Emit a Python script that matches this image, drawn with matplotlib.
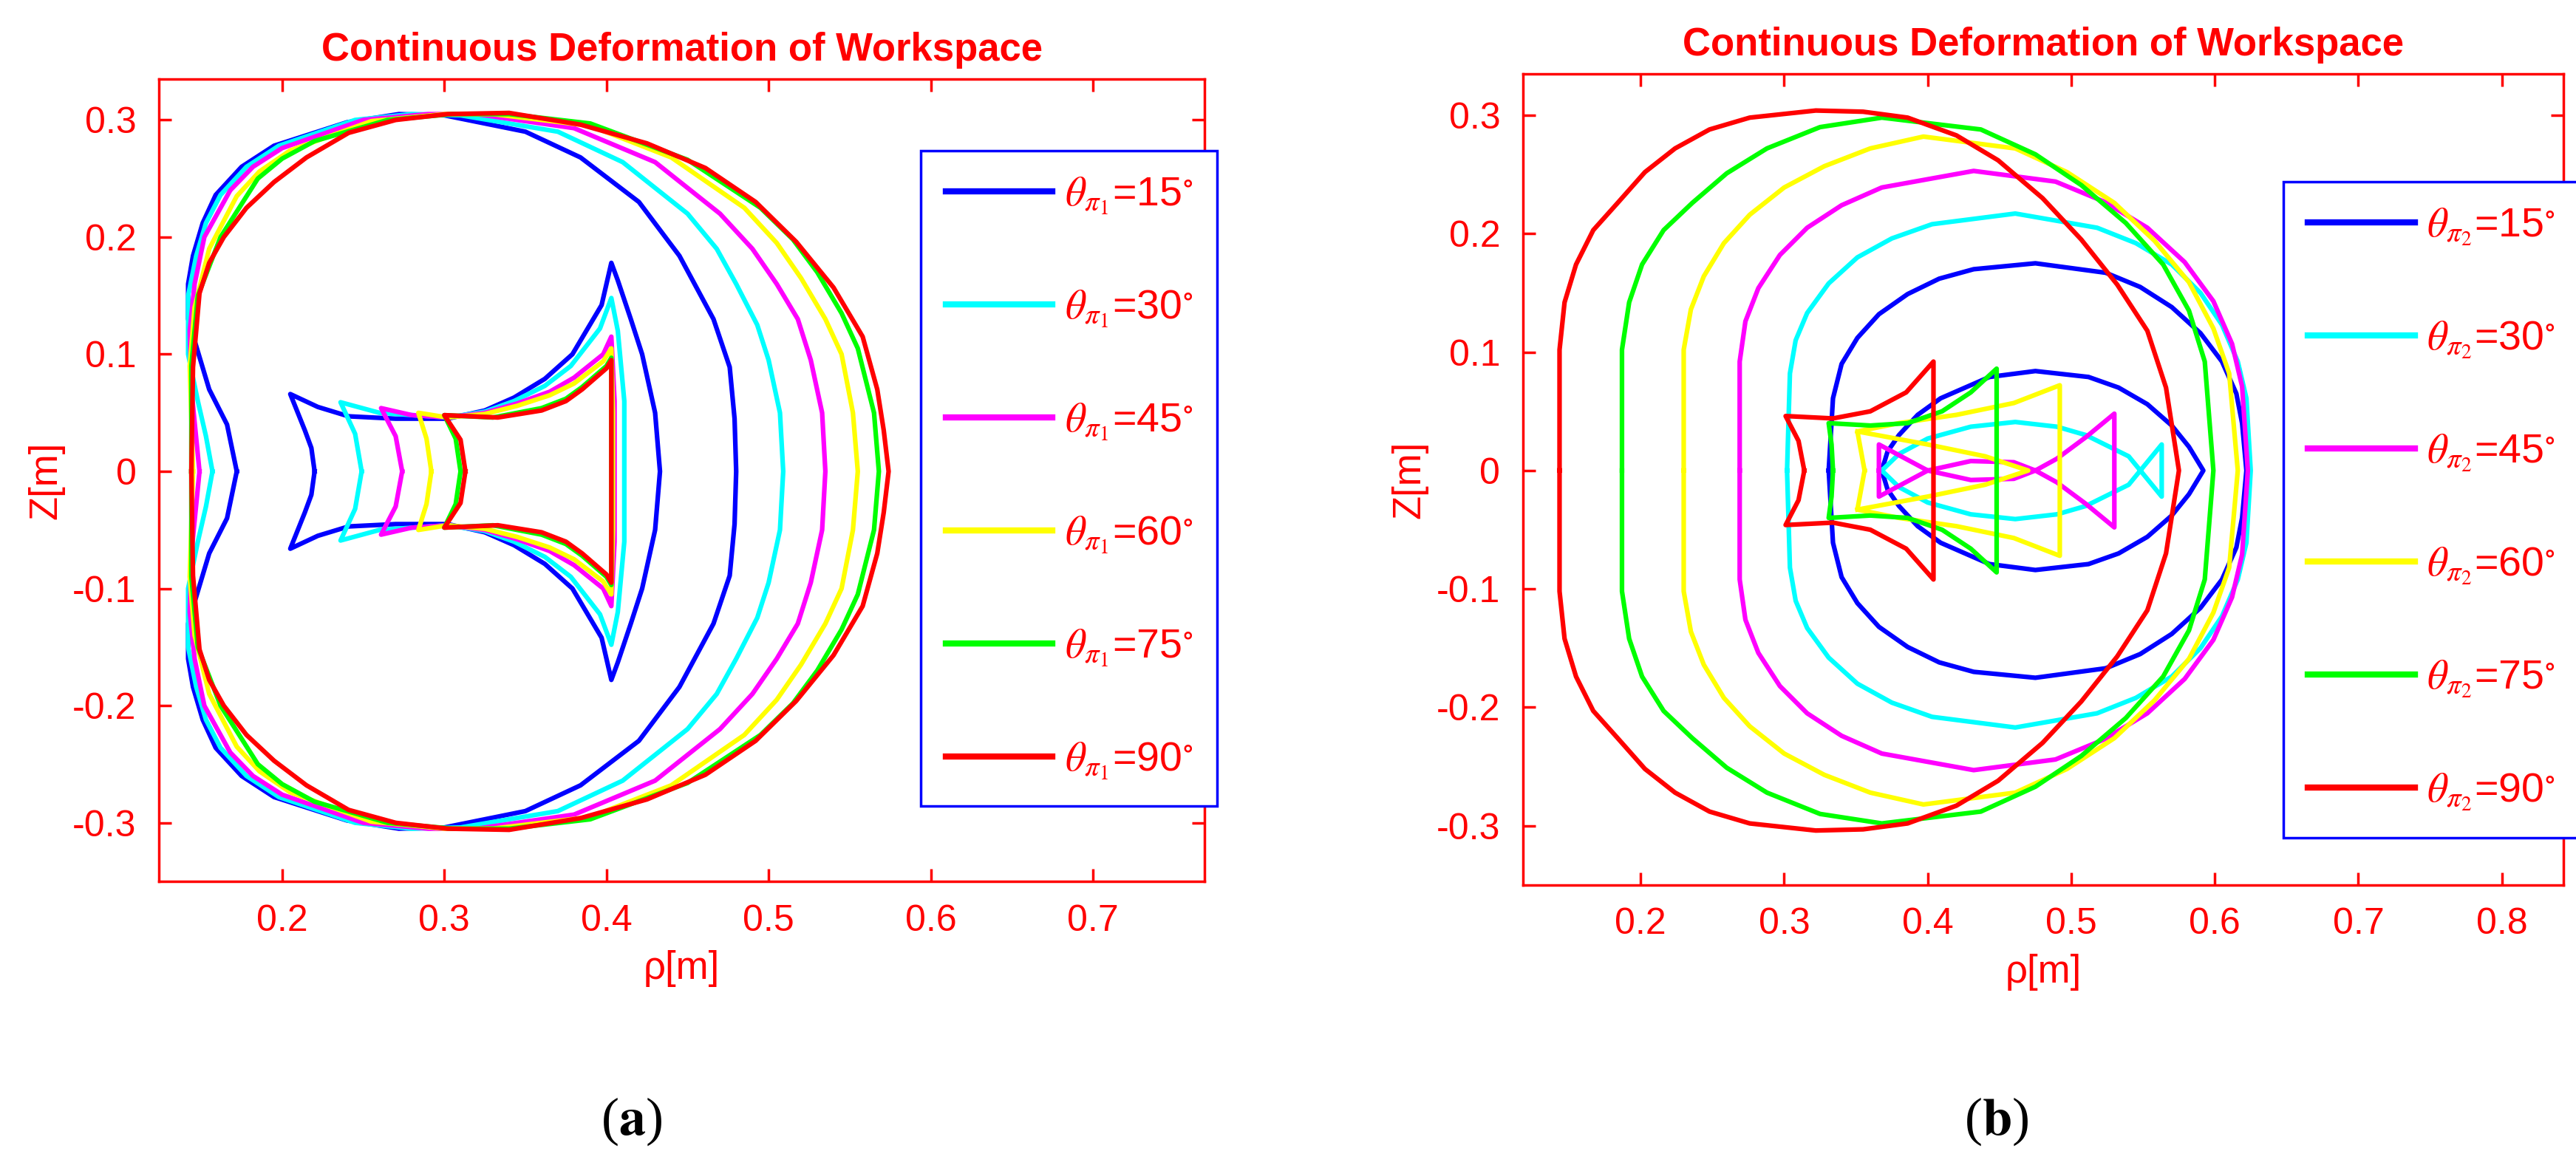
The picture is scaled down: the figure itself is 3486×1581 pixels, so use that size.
import numpy as np
import matplotlib as mpl
mpl.use('Agg')
import matplotlib.pyplot as plt

plt.rcParams['font.family'] = ['Liberation Sans Narrow', 'Liberation Sans', 'DejaVu Sans']
plt.rcParams['mathtext.fontset'] = 'stix'

COLORS = ['#0000ff', '#00ffff', '#ff00ff', '#ffff00', '#00ff00', '#ff0000']
ANGLES = [15, 30, 45, 60, 75, 90]

# ---- panel (a): upper halves (z >= 0), mirrored about z = 0 ----
# outer boundary, left-to-right over the top
A_OUTER = [
    [(0.172, 0.0), (0.166, 0.04), (0.155, 0.07), (0.142, 0.13), (0.142, 0.16), (0.145, 0.184),
     (0.151, 0.212), (0.159, 0.236), (0.175, 0.26), (0.195, 0.278), (0.24, 0.298), (0.272, 0.305),
     (0.30, 0.304), (0.35, 0.29), (0.384, 0.268), (0.420, 0.23), (0.445, 0.184), (0.466, 0.13),
     (0.476, 0.089), (0.479, 0.045), (0.480, 0.0)],
    [(0.157, 0.0), (0.153, 0.03), (0.148, 0.06), (0.142, 0.10), (0.142, 0.15), (0.147, 0.184),
     (0.153, 0.212), (0.162, 0.236), (0.178, 0.26), (0.198, 0.278), (0.245, 0.300), (0.28, 0.305),
     (0.31, 0.304), (0.37, 0.29), (0.41, 0.264), (0.45, 0.22), (0.468, 0.19), (0.48, 0.16),
     (0.493, 0.125), (0.500, 0.095), (0.507, 0.05), (0.509, 0.0)],
    [(0.149, 0.0), (0.144, 0.07), (0.143, 0.12), (0.146, 0.16), (0.152, 0.2), (0.168, 0.24),
     (0.182, 0.26), (0.20, 0.276), (0.25, 0.300), (0.29, 0.305), (0.32, 0.305), (0.38, 0.293),
     (0.43, 0.264), (0.47, 0.22), (0.49, 0.19), (0.505, 0.16), (0.518, 0.13), (0.526, 0.095),
     (0.533, 0.05), (0.535, 0.0)],
    [(0.145, 0.0), (0.143, 0.09), (0.146, 0.14), (0.155, 0.19), (0.172, 0.235), (0.186, 0.256),
     (0.205, 0.274), (0.255, 0.299), (0.30, 0.305), (0.33, 0.305), (0.39, 0.295), (0.44, 0.268),
     (0.485, 0.225), (0.505, 0.195), (0.52, 0.165), (0.535, 0.13), (0.545, 0.1), (0.552, 0.05),
     (0.555, 0.0)],
    [(0.144, 0.0), (0.144, 0.09), (0.148, 0.15), (0.162, 0.2), (0.185, 0.25), (0.2, 0.267),
     (0.22, 0.282), (0.265, 0.300), (0.305, 0.305), (0.34, 0.305), (0.39, 0.297), (0.45, 0.266),
     (0.495, 0.225), (0.515, 0.198), (0.53, 0.17), (0.545, 0.135), (0.555, 0.105),
     (0.565, 0.05), (0.568, 0.0)],
    [(0.144, 0.0), (0.145, 0.089), (0.149, 0.152), (0.155, 0.178), (0.164, 0.2), (0.178, 0.225),
     (0.195, 0.247), (0.215, 0.268), (0.241, 0.289), (0.27, 0.3), (0.302, 0.305), (0.34, 0.306),
     (0.384, 0.296), (0.425, 0.28), (0.461, 0.259), (0.492, 0.23), (0.517, 0.196),
     (0.540, 0.157), (0.558, 0.115), (0.567, 0.07), (0.571, 0.035), (0.574, 0.0)],
]
# inner hourglass boundary
A_INNER = [
    [(0.220, 0.0), (0.218, 0.02), (0.214, 0.035), (0.205, 0.066), (0.222, 0.055), (0.241, 0.047),
     (0.27, 0.045), (0.302, 0.045), (0.325, 0.052), (0.343, 0.063), (0.362, 0.079), (0.379, 0.1),
     (0.397, 0.142), (0.403, 0.178), (0.407, 0.163), (0.415, 0.13), (0.422, 0.1), (0.430, 0.05),
     (0.433, 0.0)],
    [(0.249, 0.0), (0.245, 0.032), (0.236, 0.059), (0.26, 0.05), (0.302, 0.046), (0.325, 0.051),
     (0.343, 0.06), (0.362, 0.073), (0.378, 0.09), (0.396, 0.122), (0.403, 0.148), (0.407, 0.12),
     (0.411, 0.06), (0.411, 0.0)],
    [(0.274, 0.0), (0.270, 0.03), (0.261, 0.054), (0.28, 0.048), (0.302, 0.046), (0.325, 0.05),
     (0.345, 0.058), (0.365, 0.068), (0.38, 0.08), (0.398, 0.1), (0.403, 0.115), (0.405, 0.06),
     (0.405, 0.0)],
    [(0.292, 0.0), (0.289, 0.028), (0.284, 0.05), (0.302, 0.046), (0.325, 0.049), (0.345, 0.056),
     (0.365, 0.065), (0.38, 0.075), (0.398, 0.094), (0.403, 0.105), (0.404, 0.05), (0.404, 0.0)],
    [(0.310, 0.0), (0.307, 0.028), (0.300, 0.048), (0.33, 0.046), (0.36, 0.054), (0.375, 0.062),
     (0.385, 0.072), (0.400, 0.09), (0.403, 0.097), (0.403, 0.05), (0.403, 0.0)],
    [(0.313, 0.0), (0.310, 0.027), (0.300, 0.048), (0.333, 0.046), (0.36, 0.052), (0.375, 0.06),
     (0.385, 0.07), (0.400, 0.088), (0.403, 0.095), (0.403, 0.05), (0.403, 0.0)],
]

# ---- panel (b) ----
B_OUTER = [
    [(0.331, 0.0), (0.334, 0.061), (0.340, 0.09), (0.351, 0.112), (0.366, 0.132), (0.386, 0.149),
     (0.408, 0.162), (0.432, 0.170), (0.475, 0.175), (0.524, 0.167), (0.548, 0.155), (0.570, 0.138),
     (0.590, 0.116), (0.605, 0.092), (0.615, 0.065), (0.619, 0.040), (0.622, 0.0)],
    [(0.302, 0.0), (0.304, 0.082), (0.308, 0.11), (0.316, 0.133), (0.331, 0.158), (0.351, 0.180),
     (0.375, 0.196), (0.403, 0.208), (0.461, 0.217), (0.518, 0.205), (0.545, 0.192), (0.570, 0.174),
     (0.590, 0.15), (0.605, 0.123), (0.616, 0.092), (0.622, 0.061), (0.625, 0.0)],
    [(0.269, 0.0), (0.269, 0.092), (0.273, 0.126), (0.282, 0.154), (0.297, 0.182), (0.316, 0.205),
     (0.34, 0.224), (0.368, 0.239), (0.432, 0.253), (0.489, 0.244), (0.523, 0.227), (0.553, 0.205),
     (0.579, 0.176), (0.599, 0.143), (0.612, 0.107), (0.619, 0.071), (0.623, 0.0)],
    [(0.230, 0.0), (0.230, 0.102), (0.235, 0.136), (0.244, 0.164), (0.258, 0.192), (0.276, 0.216),
     (0.3, 0.239), (0.328, 0.257), (0.36, 0.272), (0.397, 0.282), (0.461, 0.272), (0.497, 0.252),
     (0.530, 0.226), (0.558, 0.194), (0.582, 0.159), (0.599, 0.12), (0.610, 0.082), (0.616, 0.0)],
    [(0.187, 0.0), (0.187, 0.102), (0.192, 0.142), (0.201, 0.174), (0.216, 0.203), (0.236, 0.226),
     (0.26, 0.251), (0.288, 0.272), (0.325, 0.29), (0.368, 0.298), (0.437, 0.288), (0.475, 0.267),
     (0.507, 0.241), (0.538, 0.209), (0.564, 0.174), (0.582, 0.135), (0.593, 0.092), (0.599, 0.0)],
    [(0.1435, 0.0), (0.1435, 0.102), (0.147, 0.142), (0.155, 0.174), (0.167, 0.203), (0.184, 0.226),
     (0.203, 0.252), (0.224, 0.272), (0.248, 0.288), (0.276, 0.298), (0.322, 0.304), (0.355, 0.303),
     (0.386, 0.298), (0.42, 0.283), (0.449, 0.262), (0.48, 0.23), (0.507, 0.195), (0.532, 0.157),
     (0.553, 0.118), (0.566, 0.07), (0.575, 0.0)],
]
B_INNER = [
    [[(0.368, 0.0), (0.372, 0.016), (0.380, 0.030), (0.393, 0.047), (0.409, 0.061), (0.443, 0.079),
      (0.475, 0.084), (0.512, 0.079), (0.533, 0.07), (0.553, 0.056), (0.570, 0.038), (0.582, 0.020),
      (0.592, 0.0)]],
    [[(0.368, 0.0), (0.38, 0.014), (0.40, 0.027), (0.43, 0.037), (0.461, 0.041), (0.49, 0.037),
      (0.51, 0.03), (0.54, 0.012), (0.563, -0.022), (0.563, 0.0)]],
    [[(0.366, 0.0), (0.366, 0.022), (0.40, 0.0), (0.43, 0.008), (0.46, 0.007), (0.475, 0.0),
      (0.49, 0.01), (0.51, 0.028), (0.53, 0.048), (0.53, 0.0)]],
    [[(0.356, 0.0), (0.351, 0.033), (0.38, 0.04), (0.42, 0.047), (0.46, 0.057), (0.492, 0.072), (0.492, 0.0)],
     [(0.351, 0.033), (0.40, 0.022), (0.44, 0.012), (0.47, 0.0)]],
    [[(0.334, 0.0), (0.333, 0.022), (0.331, 0.040), (0.360, 0.038), (0.386, 0.04), (0.41, 0.05),
      (0.43, 0.066), (0.448, 0.086), (0.448, 0.0)]],
    [[(0.314, 0.0), (0.310, 0.025), (0.301, 0.046), (0.334, 0.044), (0.36, 0.05), (0.385, 0.066),
      (0.404, 0.092), (0.404, 0.0)]],
]


def mirror(pts):
    p = np.array(pts)
    x = np.concatenate([p[:, 0], p[::-1, 0]])
    y = np.concatenate([p[:, 1], -p[::-1, 1]])
    return x, y


def style(ax, xlim, xticks, sub):
    ax.set_xlim(*xlim)
    ax.set_ylim(-0.35, 0.335)
    ax.set_xticks(xticks)
    ax.set_xticklabels(['%g' % t for t in xticks])
    ax.set_yticks([-0.3, -0.2, -0.1, 0, 0.1, 0.2, 0.3])
    ax.set_yticklabels(['-0.3', '-0.2', '-0.1', '0', '0.1', '0.2', '0.3'])
    for s in ax.spines.values():
        s.set_color('red')
        s.set_linewidth(2.5)
    ax.tick_params(direction='in', colors='red', labelcolor='red', labelsize=36,
                   length=12, width=2.5, top=True, right=True, pad=22)
    ax.set_title('Continuous Deformation of Workspace', color='red', fontsize=38,
                 fontweight='bold', pad=18)
    ax.set_xlabel('ρ[m]', color='red', fontsize=38, labelpad=12)
    ax.set_ylabel('Z[m]', color='red', fontsize=38, labelpad=8)
    handles = [plt.Line2D([], [], color=c, lw=6) for c in COLORS]
    labels = [r'$\theta_{\pi_%s}$=%d$^{\circ}$' % (sub, a) for a in ANGLES]
    return handles, labels


fig = plt.figure(figsize=(34.86, 15.81), dpi=100)
ax1 = fig.add_axes([0.0617, 0.2454, 0.406, 0.687])
ax2 = fig.add_axes([0.5912, 0.2423, 0.404, 0.6945])

for i, c in enumerate(COLORS):
    ax1.plot(*mirror(A_OUTER[i]), color=c, lw=4.5)
    ax1.plot(*mirror(A_INNER[i]), color=c, lw=4.5)
    ax2.plot(*mirror(B_OUTER[i]), color=c, lw=4.5)
    for seg in B_INNER[i]:
        ax2.plot(*mirror(seg), color=c, lw=4.5)

for ax, xlim, xt, sub, anchor in [
        (ax1, (0.124, 0.769), [0.2, 0.3, 0.4, 0.5, 0.6, 0.7], '1', (0.709, 0.936)),
        (ax2, (0.118, 0.843), [0.2, 0.3, 0.4, 0.5, 0.6, 0.7, 0.8], '2', (0.711, 0.892))]:
    h, l = style(ax, xlim, xt, sub)
    leg = ax.legend(h, l, loc='upper left', bbox_to_anchor=anchor, fontsize=40,
                    handlelength=2.6, labelspacing=1.75, borderpad=0.6, handletextpad=0.3,
                    fancybox=False, framealpha=1, labelcolor='red')
    leg.get_frame().set_edgecolor('blue')
    leg.get_frame().set_linewidth(2.5)

fig.text(0.245, 0.04, r'($\mathbf{a}$)', fontsize=52, ha='center', va='center',
         family='Liberation Serif')
fig.text(0.775, 0.04, r'($\mathbf{b}$)', fontsize=52, ha='center', va='center',
         family='Liberation Serif')

fig.savefig('out.png', dpi=100)
plt.close(fig)
